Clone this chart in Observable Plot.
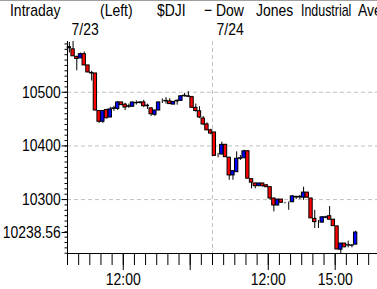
<!DOCTYPE html>
<html><head><meta charset="utf-8">
<script src="https://cdn.jsdelivr.net/npm/d3@7"></script>
<script src="https://cdn.jsdelivr.net/npm/@observablehq/plot@0.6"></script>
<style>
body{margin:0;background:#fff;overflow:hidden}
#wrap{position:relative;width:377px;height:289px;overflow:hidden;background:#fff}
#topline{position:absolute;left:0;top:0;width:377px;height:1px;background:#a0a0a0}
.t{position:absolute;top:1px;font-family:"Liberation Sans",Arial,sans-serif;font-size:17px;line-height:20px;white-space:nowrap;color:#000;transform:scaleX(0.82);transform-origin:0 0}
</style></head><body>
<div id="wrap"><div id="chart"></div><div id="topline"></div>
<span class="t" style="left:10.4px">Intraday</span>
<span class="t" style="left:99.5px">(Left)</span>
<span class="t" style="left:156.5px">$DJI</span>
<span class="t" style="left:204px">−</span>
<span class="t" style="left:216px">Dow</span>
<span class="t" style="left:256px">Jones</span>
<span class="t" style="left:300.5px;transform:scaleX(0.73)">Industrial</span>
<span class="t" style="left:358px">Average</span>
</div>
<script>
// 10-minute candles, 7/23 9:30 to 7/24 16:00 (39 per day)
const open  = [10582,10580,10566,10563,10571,10550,10536,10535,10465,10445,10467,10453,10470,10469,10481,10477,10474,10473,10480,10480,10481,10475,10470,10458,10466,10483,10483,10483,10477,10483,10484,10492.5,10492.5,10491,10471,10464.5,10451,10440,10429,
               10425,10382,10384,10402,10378,10345,10351,10376,10377,10390,10338,10330,10325,10330,10326.5,10323,10302,10289,10300,10294,10295,10295,10304,10304,10303.5,10313,10302,10264,10257,10257,10266,10269,10262.5,10250,10206.5,10218,10214.5,10214,10216];
const high  = [10593,10594.6,10567,10573,10575,10550,10539,10535,10465,10465.5,10468,10472,10474,10483,10481.5,10479.5,10478,10481.5,10484,10482,10485,10478,10471,10466.5,10482,10487.5,10490,10488,10482.5,10486,10494,10498,10501,10492.5,10478,10473,10455,10443,10431,
               10425.5,10386,10407,10403,10379,10353,10389,10382,10392,10391,10339,10330.5,10330.5,10330.5,10328,10324,10302.5,10300,10300,10295,10295.5,10307,10306,10308,10323,10313,10302.5,10280,10261,10268,10269,10287,10263,10250.5,10218,10218.5,10222.5,10216,10241];
const low   = [10573,10567,10540,10563,10550,10536,10521,10465.5,10442,10442,10450.6,10452,10464.5,10466,10476,10466,10470,10472,10476,10478,10471.5,10468,10455,10455,10465.5,10479,10478,10477,10477,10476,10483,10491,10490,10470,10463,10451,10438,10428.5,10421,
               10381,10378,10383.5,10379,10336,10336,10351,10373,10377,10338,10320,10320,10324,10323,10323,10298.5,10277,10288,10293,10292,10280,10295,10300,10300,10298.5,10302,10265,10246,10246,10256.5,10264,10262,10250,10206.5,10199.5,10210.5,10210,10210,10215.5];
const close = [10584,10567,10562,10571,10550,10537,10535,10466,10445,10465,10451.5,10468,10469,10481,10476,10471.5,10473,10481,10479.5,10481,10474,10474,10459,10466,10481,10483,10484,10478,10482,10484,10492.5,10493.5,10491.6,10471,10465,10453,10440,10429,10423,
               10381.5,10382,10402,10379,10345,10353,10376,10377,10390,10339,10331.5,10325,10330,10325,10323,10302,10289,10300,10294,10294,10295,10306,10305,10305,10313,10303.5,10265,10258,10257,10267,10267,10262.5,10250.5,10207,10218,10211,10215,10214.5,10238.56];

const days = ["7/23", "7/24"];
const dayStartSlot = [0, 39];
const gridValues = [10300, 10400, 10500];
const yLabelValues = [10300, 10400, 10500, 10238.56];
const xTickSlots = d3.range(0, 84, 3);          // every 30 minutes
const longTickSlots = [15, 33, 54, 72];         // 12:00 and 15:00 each day
const xLabelSlots = [15, 54, 72];
const xLabels = ["12:00", "12:00", "15:00"];

const candles = open.map((o, i) => ({i, open: o, high: high[i], low: low[i], close: close[i]}));
const yMin = d3.min(low), yMax = d3.max(high);
const labelMap = new Map(xLabelSlots.map((s, i) => [s, xLabels[i]]));
const font = '"Liberation Sans",Arial,sans-serif';
const dash = "4,3";

const chart = Plot.plot({
  width: 377, height: 289,
  marginLeft: 67, marginRight: 0, marginTop: 41, marginBottom: 36,
  style: {fontFamily: font, fontSize: "17px", background: "transparent", color: "#000", overflow: "visible"},
  x: {type: "linear", domain: [0, 310 / 3.718], axis: null, label: null},
  y: {domain: [yMin, yMax], axis: null, label: null},
  marks: [
    Plot.ruleY(gridValues, {stroke: "#c0c0c0", strokeDasharray: dash}),
    Plot.ruleX([dayStartSlot[1]], {stroke: "#c0c0c0", strokeDasharray: dash}),
    Plot.ruleX(candles, {x: d => d.i + 0.5, y1: "low", y2: "high", stroke: "#000"}),
    Plot.rect(candles, {
      x1: d => d.i + 0.05, x2: d => d.i + 0.95, y1: "open", y2: "close",
      fill: d => d.close > d.open ? "#0000ff" : d.close < d.open ? "#ff0000" : "#000",
      stroke: "#000", strokeWidth: 1
    }),
    Plot.ruleX([0], {stroke: "#000"}),
    Plot.ruleY([yMin], {stroke: "#000"}),
    Plot.axisY(d3.range(10200, 10600, 10), {tickSize: 2.5, tickFormat: () => "", label: null}),
    Plot.axisY(yLabelValues, {tickSize: 5.5, tickPadding: 1.2, tickFormat: d => String(d), label: null, fontSize: 17}),
    Plot.axisX(xTickSlots, {tickSize: 12, tickFormat: () => "", label: null}),
    Plot.axisX(longTickSlots, {tickSize: 17, tickPadding: 2, tickFormat: d => labelMap.get(d) || "", label: null, fontSize: 17}),
    Plot.text(days, {x: (d, i) => dayStartSlot[i], frameAnchor: "top", dy: -19, dx: 4, textAnchor: "start", lineAnchor: "top", fontSize: 17})
  ]
});
document.getElementById("chart").appendChild(chart);
// narrow the glyphs like the reference's condensed font
chart.querySelectorAll("text").forEach(t => {
  const w = t.getComputedTextLength();
  if (w > 0) { t.setAttribute("textLength", w * 0.82); t.setAttribute("lengthAdjust", "spacingAndGlyphs"); }
});
</script>
</body></html>
